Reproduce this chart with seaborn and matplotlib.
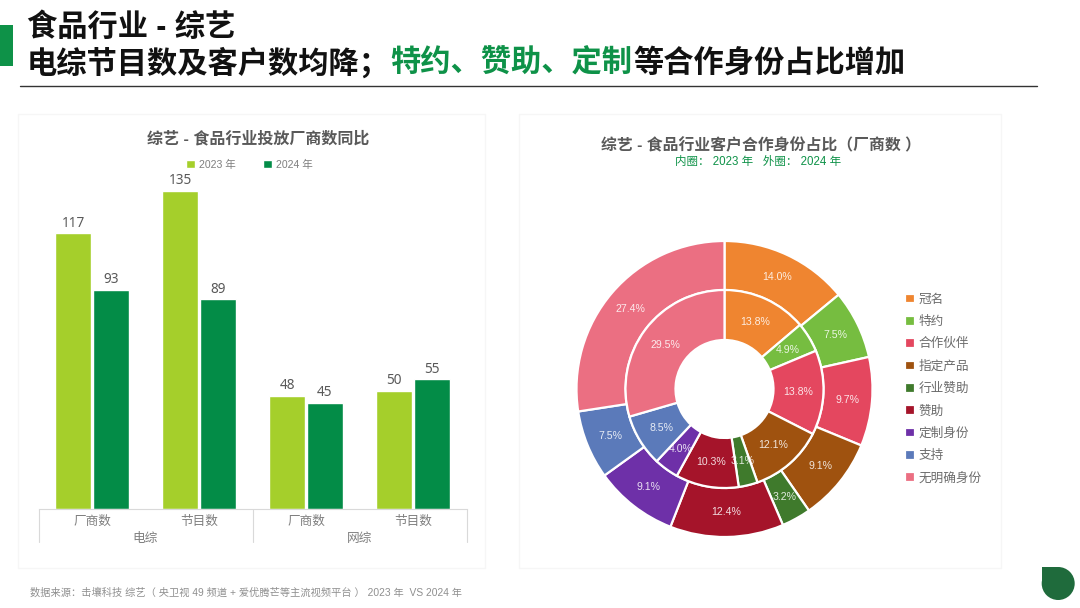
import matplotlib
matplotlib.use("Agg")
import matplotlib.pyplot as plt
from matplotlib.patches import Rectangle, Circle
import pandas as pd
import seaborn as sns

# ---- data ----
title_line1 = "食品行业 - 综艺"
title_black_a = "电综节目数及客户数均降；"
title_green = "特约、赞助、定制"
title_black_b = "等合作身份占比增加"
bar_title = "综艺 - 食品行业投放厂商数同比"
pie_title = "综艺 - 食品行业客户合作身份占比（厂商数 ）"
pie_sub = "内圈： 2023 年   外圈： 2024 年"
source = "数据来源：击壤科技 综艺（ 央卫视 49 频道 + 爱优腾芒等主流视频平台 ） 2023 年  VS 2024 年"

cat_keys = ["电综厂商数", "电综节目数", "网综厂商数", "网综节目数"]
cat_labels = ["厂商数", "节目数", "厂商数", "节目数"]
group_labels = ["电综", "网综"]
values_2023 = [117, 135, 48, 50]
values_2024 = [93, 89, 45, 55]

roles = ["冠名", "特约", "合作伙伴", "指定产品", "行业赞助", "赞助", "定制身份", "支持", "无明确身份"]
inner_2023 = [13.8, 4.9, 13.8, 12.1, 3.1, 10.3, 4.0, 8.5, 29.5]
outer_2024 = [14.0, 7.5, 9.7, 9.1, 3.2, 12.4, 9.1, 7.5, 27.4]
role_colors = ["#EF8530", "#76BD40", "#E4475F", "#9F520F", "#3F7A2C",
               "#A5142A", "#6E30A8", "#5B7ABA", "#EB6F82"]
year_colors = ["#A5CF2B", "#038C47"]

# ---- style ----
sns.set_theme(style="white")
FONT = ["Liberation Sans", "Noto Sans CJK SC", "DejaVu Sans"]
plt.rcParams["font.family"] = FONT
W, H = 1080, 608
fig = plt.figure(figsize=(W / 100, H / 100), dpi=100, facecolor="white")

# pixel-space layer for page furniture
bg = fig.add_axes([0, 0, 1, 1], zorder=0)
bg.set_xlim(0, W); bg.set_ylim(H, 0); bg.axis("off")
for x0, x1 in [(18, 485), (519, 1001)]:
    bg.add_patch(Rectangle((x0, 114), x1 - x0, 454, fc="white", ec="#F6F6F6", lw=1))
bg.add_patch(Rectangle((0, 25), 13, 41, fc="#0E9248", ec="none"))
bg.plot([20, 1037], [86, 86], color="#333333", lw=1)
bg.add_patch(Circle((1058.2, 583.5), 16.5, fc="#1F6B3C", ec="none"))
bg.add_patch(Rectangle((1041.7, 567), 16.5, 16.5, fc="#1F6B3C", ec="none"))

# headline
CH = 30.3
tfs = 21.8
bg.text(27, 27, title_line1, fontsize=tfs, fontweight="bold", color="#111111", va="center", ha="left")
bg.text(27, 63, title_black_a, fontsize=tfs, fontweight="bold", color="#111111", va="center", ha="left")
bg.text(27 + 12 * CH, 63, title_green, fontsize=tfs, fontweight="bold", color="#0E9248", va="center", ha="left")
bg.text(27 + 20 * CH, 63, title_black_b, fontsize=tfs, fontweight="bold", color="#111111", va="center", ha="left")

bg.text(258, 139, bar_title, fontsize=11.5, fontweight="bold", color="#595959", ha="center", va="center")
bg.text(761, 146, pie_title, fontsize=11.4, fontweight="bold", color="#595959", ha="center", va="center")
bg.text(758, 162, pie_sub, fontsize=8.3, color="#0E9248", ha="center", va="center")
bg.text(30, 593, source, fontsize=7.35, color="#8F8F8F", ha="left", va="center")

# ---- bar chart ----
L, R, B, T = 38.5, 466.5, 509, 170
ax = fig.add_axes([L / W, 1 - B / H, (R - L) / W, (B - T) / H], zorder=1)
ax.patch.set_alpha(0)
df = pd.DataFrame({
    "key": cat_keys * 2,
    "value": values_2023 + values_2024,
    "year": ["2023 年"] * 4 + ["2024 年"] * 4,
})
sns.barplot(data=df, x="key", y="value", hue="year", palette=year_colors,
            width=0.71, gap=0.07, saturation=1, ax=ax)
ax.set_ylim(0, (B - T) / 2.355)
ax.set_xlim(-0.5, 3.5)
ax.set_xlabel(""); ax.set_ylabel("")
ax.set_yticks([])
ax.set_xticks(range(4), cat_labels, fontsize=9.1, color="#7F7F7F")
ax.tick_params(axis="x", length=0, pad=5)
for s in ["top", "left", "right"]:
    ax.spines[s].set_visible(False)
ax.spines["bottom"].set_color("#D9D9D9")
ax.spines["bottom"].set_linewidth(0.8)
for c in ax.containers:
    ax.bar_label(c, fontsize=9.8, color="#595959", padding=2, family="Noto Sans")
trans = ax.get_xaxis_transform()
for xv in [-0.5, 1.5, 3.5]:
    ax.plot([xv, xv], [0, -33 / (B - T)], transform=trans, color="#D9D9D9", lw=0.8, clip_on=False)
for xv, lab in zip([0.5, 2.5], group_labels):
    ax.text(xv, -30 / (B - T), lab, transform=trans, ha="center", va="center",
            fontsize=9.1, color="#7F7F7F")
h, l = ax.get_legend_handles_labels()
ax.legend(h, l, loc="center", bbox_to_anchor=((218.5 + 31 - L) / (R - L), (B - 164.5) / (B - T)),
          ncols=2, frameon=False, fontsize=7.6, labelcolor="#7F7F7F",
          handlelength=0.85, handleheight=0.85, handletextpad=0.35, columnspacing=2.65)

# ---- donut ----
CX, CY, RO, RM, RI = 724.5, 389, 148, 99, 49
pa = fig.add_axes([(CX - RO) / W, 1 - (CY + RO) / H, 2 * RO / W, 2 * RO / H], zorder=1)
pa.patch.set_alpha(0)

def label_iter(vals):
    it = iter(vals)
    return lambda _p: f"{next(it):.1f}%"

wedge_kw = dict(edgecolor="white", linewidth=1.6)
outer_w, _, outer_t = pa.pie(outer_2024, colors=role_colors, radius=1.0, startangle=90, counterclock=False,
                             wedgeprops=dict(width=(RO - RM) / RO, **wedge_kw),
                             autopct=label_iter(outer_2024), pctdistance=(RO + RM) / 2 / RO)
inner_w, _, inner_t = pa.pie(inner_2023, colors=role_colors, radius=RM / RO, startangle=90, counterclock=False,
                             wedgeprops=dict(width=(RM - RI) / RO, **wedge_kw),
                             autopct=label_iter(inner_2023), pctdistance=(RM + RI) / 2 / RM)
for t in outer_t + inner_t:
    t.set_fontsize(7.6)
    t.set_color("white")
    t.set_alpha(0.85)
pa.set_xlim(-1, 1); pa.set_ylim(-1, 1)

fig.legend(outer_w, roles, loc="upper left", bbox_to_anchor=(900 / W, 1 - 288.5 / H), frameon=False,
           fontsize=9.1, labelcolor="#6B6B6B", handlelength=0.8, handleheight=0.8,
           handletextpad=0.25, labelspacing=0.8, borderpad=0.4, borderaxespad=0)

fig.savefig("out.png", dpi=100, facecolor="white")
